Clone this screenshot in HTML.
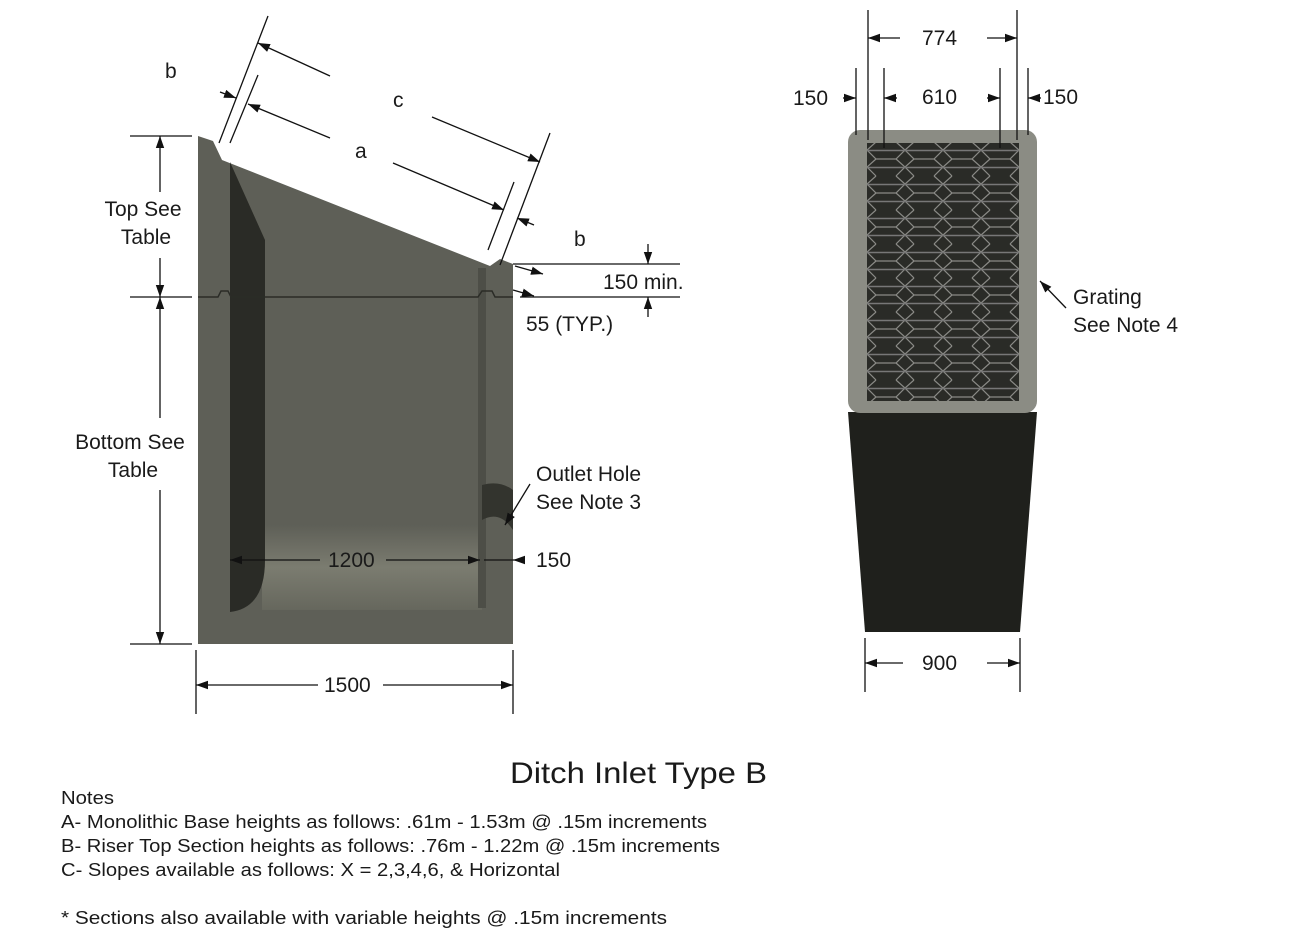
<!DOCTYPE html>
<html><head><meta charset="utf-8"><style>
html,body{margin:0;padding:0;background:#fff;width:1300px;height:951px;overflow:hidden}
svg text{font-family:"Liberation Sans",sans-serif;fill:#1a1a1a}
</style></head><body>
<svg width="1300" height="951" viewBox="0 0 1300 951" xmlns="http://www.w3.org/2000/svg">
<defs>
<marker id="ah" viewBox="0 0 10 10" refX="10" refY="5" markerWidth="12" markerHeight="12" markerUnits="userSpaceOnUse" orient="auto-start-reverse"><path d="M0,1.5 L10,5 L0,8.5z" fill="#111"/></marker>
<pattern id="grate" x="867" y="142" width="38" height="34" patternUnits="userSpaceOnUse">
<rect width="38" height="34" fill="#2a2b27"/>
<path d="M0,8 L9,0 M29,0 L38,8 M0,8 L9,17 L29,17 L38,8 M9,17 L0,25 M38,25 L29,17 M0,25 L9,34 M38,25 L29,34" stroke="#8a8a86" stroke-width="1.2" fill="none"/>
<path d="M0,8.5 H38 M0,25.5 H38" stroke="#777" stroke-width="1.5"/>
</pattern>
<linearGradient id="floor" x1="0" y1="0" x2="0" y2="1"><stop offset="0" stop-color="#5e5f57"/><stop offset="0.5" stop-color="#7b7c70"/><stop offset="1" stop-color="#66675d"/></linearGradient>
</defs>

<!-- LEFT BODY -->
<polygon points="198,136 213,141 222,160 490,266 500,259 513,264 513,644 198,644" fill="#5e5f57"/>
<rect x="262" y="525" width="220" height="85" fill="url(#floor)"/>
<path d="M230,162 L265,240 L265,560 Q265,608 230,612 Z" fill="#2a2b26"/>
<rect x="478" y="268" width="8" height="340" fill="#4d4e47"/>
<path d="M482,485 Q500,480 513,490 L513,530 Q500,510 482,520Z" fill="#33342e"/>
<path d="M198,297 H218 L221,291 H228 L231,297 H478 L482,291 H492 L495,297 H513" stroke="#2b2c27" stroke-width="1.5" fill="none"/>

<!-- RIGHT BODY -->
<polygon points="848,412 1037,412 1020,632 865,632" fill="#1f201c"/>
<rect x="848" y="130" width="189" height="283" rx="12" fill="#8b8c84"/>
<rect x="867" y="143" width="152" height="258" fill="url(#grate)"/>

<!-- dimension lines left -->
<g stroke="#111" stroke-width="1.3" fill="none">
<line x1="130" y1="136" x2="192" y2="136"/>
<line x1="130" y1="297" x2="192" y2="297"/>
<line x1="130" y1="644" x2="192" y2="644"/>
<line x1="160" y1="136" x2="160" y2="192" marker-start="url(#ah)"/>
<line x1="160" y1="258" x2="160" y2="297" marker-end="url(#ah)"/>
<line x1="160" y1="297" x2="160" y2="418" marker-start="url(#ah)"/>
<line x1="160" y1="490" x2="160" y2="644" marker-end="url(#ah)"/>
<line x1="196" y1="650" x2="196" y2="714"/>
<line x1="513" y1="650" x2="513" y2="714"/>
<line x1="196" y1="685" x2="318" y2="685" marker-start="url(#ah)"/>
<line x1="383" y1="685" x2="513" y2="685" marker-end="url(#ah)"/>
<line x1="230" y1="560" x2="320" y2="560" marker-start="url(#ah)"/>
<line x1="386" y1="560" x2="480" y2="560" marker-end="url(#ah)"/>
<line x1="484" y1="560" x2="513" y2="560"/>
<line x1="525" y1="560" x2="513" y2="560" marker-end="url(#ah)"/>
<line x1="219" y1="143" x2="268" y2="16"/>
<line x1="230" y1="143" x2="258" y2="75"/>
<line x1="488" y1="250" x2="514" y2="182"/>
<line x1="500" y1="265" x2="550" y2="133"/>
<line x1="258" y1="43" x2="330" y2="76" marker-start="url(#ah)"/>
<line x1="432" y1="117" x2="540" y2="162" marker-end="url(#ah)"/>
<line x1="248" y1="104" x2="330" y2="138" marker-start="url(#ah)"/>
<line x1="393" y1="163" x2="504" y2="210" marker-end="url(#ah)"/>
<line x1="220" y1="92" x2="236" y2="98" marker-end="url(#ah)"/>
<line x1="534" y1="225" x2="517" y2="218" marker-end="url(#ah)"/>
<line x1="513" y1="264" x2="680" y2="264"/>
<line x1="520" y1="297" x2="680" y2="297"/>
<line x1="648" y1="244" x2="648" y2="264" marker-end="url(#ah)"/>
<line x1="648" y1="317" x2="648" y2="297" marker-end="url(#ah)"/>
<line x1="515" y1="266" x2="543" y2="274" marker-end="url(#ah)"/>
<line x1="513" y1="290" x2="534" y2="296" marker-end="url(#ah)"/>
<line x1="530" y1="484" x2="505" y2="525" marker-end="url(#ah)"/>
</g>
<g stroke="#111" stroke-width="1.3" fill="none">
<line x1="868" y1="10" x2="868" y2="140"/>
<line x1="1017" y1="10" x2="1017" y2="140"/>
<line x1="856" y1="68" x2="856" y2="135"/>
<line x1="1028" y1="68" x2="1028" y2="135"/>
<line x1="884" y1="68" x2="884" y2="148"/>
<line x1="1000" y1="68" x2="1000" y2="148"/>
<line x1="868" y1="38" x2="900" y2="38" marker-start="url(#ah)"/>
<line x1="987" y1="38" x2="1017" y2="38" marker-end="url(#ah)"/>
<line x1="843" y1="98" x2="856" y2="98" marker-end="url(#ah)"/>
<line x1="1041" y1="98" x2="1028" y2="98" marker-end="url(#ah)"/>
<line x1="897" y1="98" x2="884" y2="98" marker-end="url(#ah)"/>
<line x1="987" y1="98" x2="1000" y2="98" marker-end="url(#ah)"/>
<line x1="865" y1="638" x2="865" y2="692"/>
<line x1="1020" y1="638" x2="1020" y2="692"/>
<line x1="865" y1="663" x2="903" y2="663" marker-start="url(#ah)"/>
<line x1="987" y1="663" x2="1020" y2="663" marker-end="url(#ah)"/>
<line x1="1066" y1="308" x2="1040" y2="281" marker-end="url(#ah)"/>
</g>

<g font-size="21">
<text x="165" y="78">b</text>
<text x="393" y="107">c</text>
<text x="355" y="158">a</text>
<text x="574" y="246">b</text>
<text x="603" y="289">150 min.</text>
<text x="526" y="331">55 (TYP.)</text>
<text x="143" y="216" text-anchor="middle">Top See</text>
<text x="146" y="244" text-anchor="middle">Table</text>
<text x="130" y="449" text-anchor="middle">Bottom See</text>
<text x="133" y="477" text-anchor="middle">Table</text>
<text x="536" y="481">Outlet Hole</text>
<text x="536" y="509">See Note 3</text>
<text x="328" y="567">1200</text>
<text x="536" y="567">150</text>
<text x="324" y="692">1500</text>
<text x="922" y="45">774</text>
<text x="793" y="105">150</text>
<text x="922" y="104">610</text>
<text x="1043" y="104">150</text>
<text x="1073" y="304">Grating</text>
<text x="1073" y="332">See Note 4</text>
<text x="922" y="670">900</text>
</g>
<text x="510" y="783" font-size="30" textLength="257" lengthAdjust="spacingAndGlyphs">Ditch Inlet Type B</text>
<g font-size="18.5">
<text x="61" y="804" textLength="53" lengthAdjust="spacingAndGlyphs">Notes</text>
<text x="61" y="828" textLength="646" lengthAdjust="spacingAndGlyphs">A- Monolithic Base heights as follows: .61m - 1.53m @ .15m increments</text>
<text x="61" y="852" textLength="659" lengthAdjust="spacingAndGlyphs">B- Riser Top Section heights as follows: .76m - 1.22m @ .15m increments</text>
<text x="61" y="876" textLength="499" lengthAdjust="spacingAndGlyphs">C- Slopes available as follows: X = 2,3,4,6, &amp; Horizontal</text>
<text x="61" y="924" textLength="606" lengthAdjust="spacingAndGlyphs">* Sections also available with variable heights @ .15m increments</text>
</g>
</svg>
</body></html>
